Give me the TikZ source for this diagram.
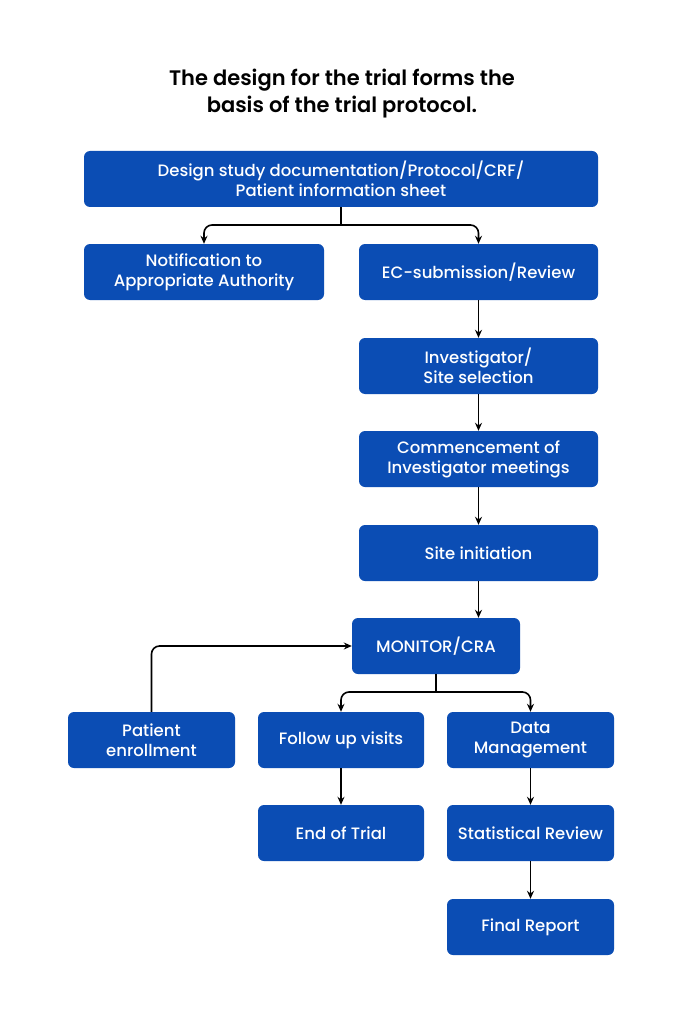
\documentclass[tikz,border=0pt]{standalone}
\usepackage{fontspec}
\setmainfont{Poppins}[UprightFont=* Medium,BoldFont=* SemiBold]
\usetikzlibrary{arrows.meta}
\definecolor{boxblue}{HTML}{0B4DB4}
\begin{document}
\begin{tikzpicture}[x=1pt,y=-1pt,
  box/.style={fill=boxblue,draw=none,rounded corners=6pt,text=white,align=center,font=\fontsize{16.5}{20}\selectfont,inner sep=0pt},
  arr/.style={draw=black,line width=1.6pt,-{Stealth[length=8pt,width=7pt]},rounded corners=8pt}]
\useasboundingbox (0,0) rectangle (683,1024);
\fill[white] (0,0) rectangle (683,1024);
\node[font=\bfseries\fontsize{21}{27}\selectfont,align=center] (title) at (342,94) {The design for the trial forms the\\basis of the trial protocol.};
\newcommand{\bx}[6]{\node[box,minimum width=#4-#2,minimum height=#5-#3] (#1) at ({(#2+#4)/2},{(#3+#5)/2}) {#6};}
\bx{b1}{84}{151}{598}{207}{Design study documentation/Protocol/CRF/\\Patient information sheet}
\bx{na}{84}{244}{324}{300}{Notification to\\Appropriate Authority}
\bx{ec}{359}{244}{598}{300}{EC-submission/Review}
\bx{inv}{359}{338}{598}{394}{Investigator/\\Site selection}
\bx{com}{359}{431}{598}{487}{Commencement of\\Investigator meetings}
\bx{si}{359}{525}{598}{581}{Site initiation}
\bx{mon}{352}{618}{520}{674}{MONITOR/CRA}
\bx{pe}{68}{712}{235}{768}{Patient\\enrollment}
\bx{fu}{258}{712}{424}{768}{Follow up visits}
\bx{dm}{447}{712}{614}{768}{Data\\Management}
\bx{et}{258}{805}{424}{861}{End of Trial}
\bx{sr}{447}{805}{614}{861}{Statistical Review}
\bx{fr}{447}{899}{614}{955}{Final Report}
\coordinate (j1) at (341,225);
\coordinate (j2) at (436,692);
\coordinate (m1) at (mon.north -| si.south);
\draw[line width=1.6pt] (b1.south) -- (j1);
\draw[arr] (j1) -| (na.north);
\draw[arr] (j1) -| (ec.north);
\draw[arr] (ec) -- (inv);
\draw[arr] (inv) -- (com);
\draw[arr] (com) -- (si);
\draw[arr] (si.south) -- (m1);
\draw[line width=1.6pt] (mon.south -| j2) -- (j2);
\draw[arr] (j2) -| (fu.north);
\draw[arr] (j2) -| (dm.north);
\draw[arr] (pe.north) |- (mon.west);
\draw[arr] (fu) -- (et);
\draw[arr] (dm) -- (sr);
\draw[arr] (sr) -- (fr);
\end{tikzpicture}
\end{document}
